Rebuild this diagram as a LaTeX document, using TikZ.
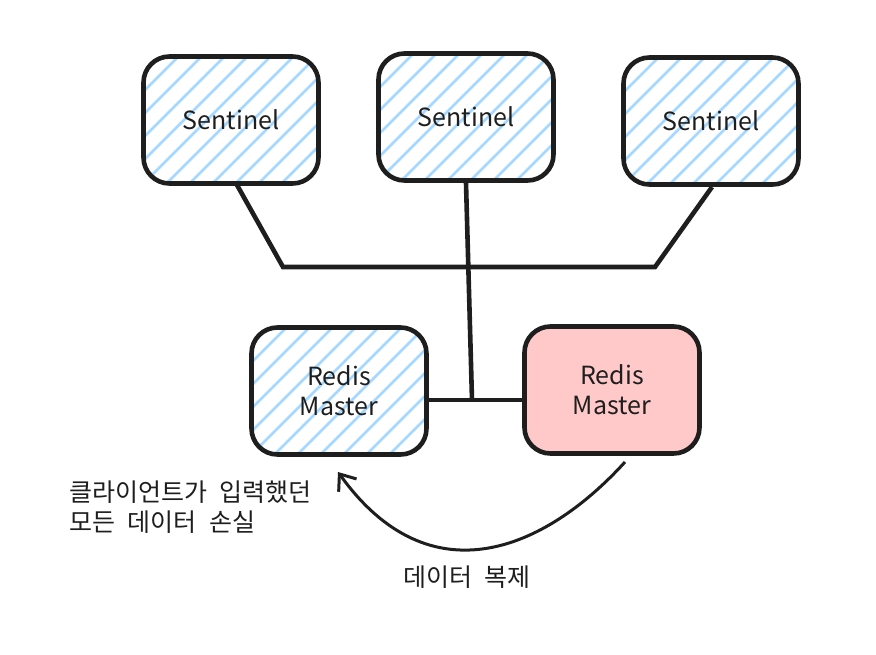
\documentclass[tikz,border=0pt]{standalone}
\usepackage{fontspec}
\setmainfont{Noto Sans CJK KR}[WordSpace=2.2]
\usetikzlibrary{arrows.meta,calc,positioning}
\definecolor{hatchblue}{HTML}{A5D8FF}
\definecolor{masterpink}{HTML}{FFC9C9}
\definecolor{inkblack}{HTML}{1E1E1E}
\tikzstyle{box} = [draw=inkblack, line width=4.6pt, rounded corners=26pt, minimum width=175pt, minimum height=127pt, align=center, font=\fontsize{25}{30}\selectfont, text=inkblack]
\tikzstyle{hatched} = [box, path picture={\foreach \i in {-10,...,10} \draw[hatchblue, line width=2.6pt] ($(path picture bounding box.south west)+(\i*23pt,0)$) -- ++(200pt,200pt);}]
\tikzstyle{link} = [draw=inkblack, line width=4.6pt]
\tikzstyle{arrow} = [draw=inkblack, line width=3pt, -{Straight Barb[length=14pt,width=22pt]}]
\tikzstyle{note} = [text=inkblack, font=\fontsize{25}{30}\selectfont]

\begin{document}
\begin{tikzpicture}[x=1pt,y=-1pt]
\useasboundingbox (0,0) rectangle (876,654);
% sentinels
\node (sent1) [hatched] at (231,120) {Sentinel};
\node (sent2) [hatched] at (466,117) {Sentinel};
\node (sent3) [hatched] at (711,121) {Sentinel};
% masters
\node (master1) [hatched] at (339,391) {Redis\\Master};
\node (master2) [box, fill=masterpink] at (612,390) {Redis\\Master};
% wiring
\coordinate (j1) at (283,267);
\coordinate (j2) at (655,267);
\coordinate (mid) at (472,400);
\draw[link] (237,185) -- (j1) -- (j2) -- (712,187);
\draw[link] (sent2.south) -- (mid);
\draw[link] (master1.east |- mid) -- (master2.west |- mid);
% replication
\coordinate (src) at (625,462);
\draw[arrow] (src) .. controls (545,550) and (430,600) .. (338,472);
\node (lost) [note, anchor=west, align=left] at (66,507) {클라이언트가 입력했던\\모든 데이터 손실};
\node (copy) [note] at (467,577) {데이터 복제};
\end{tikzpicture}
\end{document}
